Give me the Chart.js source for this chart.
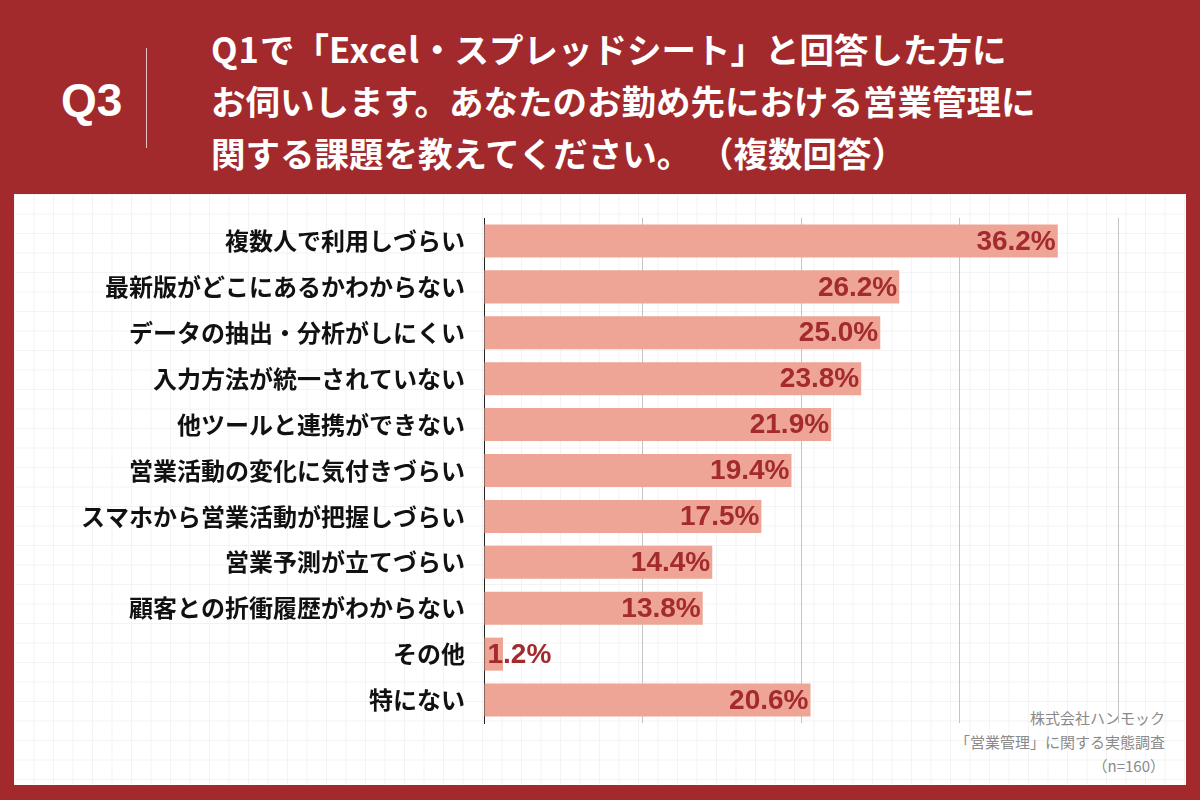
<!DOCTYPE html>
<html lang="ja">
<head>
<meta charset="utf-8">
<script src="https://cdn.jsdelivr.net/npm/chart.js@4"></script>
<style>
  html, body { margin: 0; padding: 0; }
  body {
    width: 1200px; height: 800px; overflow: hidden; position: relative;
    background: #a22a2d;
    font-family: "Noto Sans CJK JP", "Noto Sans", sans-serif;
  }
  #panel {
    position: absolute; left: 14px; top: 194px; width: 1172px; height: 591px;
    background-color: #fff;
    background-image:
      linear-gradient(to right, #f3f3f3 1px, transparent 1px),
      linear-gradient(to bottom, #f3f3f3 1px, transparent 1px);
    background-size: 19.5px 19.5px;
  }
  #q {
    position: absolute; left: 61px; top: 74px; color: #fff;
    font: bold 46px "Liberation Sans", Arial, sans-serif; line-height: 52px;
  }
  #divider {
    position: absolute; left: 146px; top: 48px; width: 1px; height: 100px;
    background: #e6c3c3;
  }
  #title {
    position: absolute; left: 211px; top: 22px; color: #fff;
    font-weight: bold; font-size: 34.5px; line-height: 52px; white-space: nowrap;
  }
  #title .latin { letter-spacing: 1px; }
  #source {
    position: absolute; right: 35px; top: 706px; text-align: right;
    color: #8a8a8a; font-size: 15px; line-height: 24px;
  }
  #chart { position: absolute; left: 0; top: 0; }
</style>
</head>
<body>
<div id="panel"></div>
<div id="q">Q3</div>
<div id="divider"></div>
<div id="title"><span class="latin">Q1</span>で「<span class="latin">Excel</span>・スプレッドシート」と回答した方に<br>お伺いします。あなたのお勤め先における営業管理に<br>関する課題を教えてください。 （複数回答）</div>
<div id="source">株式会社ハンモック<br>「営業管理」に関する実態調査<br>（n=160）</div>
<canvas id="chart" width="1200" height="800"></canvas>
<script>
// --- data ---
const categories = [
    "複数人で利用しづらい",
    "最新版がどこにあるかわからない",
    "データの抽出・分析がしにくい",
    "入力方法が統一されていない",
    "他ツールと連携ができない",
    "営業活動の変化に気付きづらい",
    "スマホから営業活動が把握しづらい",
    "営業予測が立てづらい",
    "顧客との折衝履歴がわからない",
    "その他",
    "特にない",
];
const percentages = [36.2, 26.2, 25.0, 23.8, 21.9, 19.4, 17.5, 14.4, 13.8, 1.2, 20.6];
const xTicks = [0, 10, 20, 30, 40];

const barColor = "#eea595";
const valueColor = "#a32a2d";

// 値ラベルをバーの右端に描く
const valueLabels = {
    id: "valueLabels",
    afterDatasetsDraw(chart) {
        const ctx = chart.ctx;
        const meta = chart.getDatasetMeta(0);
        ctx.save();
        ctx.font = "bold 28px 'Liberation Sans', Arial, sans-serif";
        ctx.fillStyle = valueColor;
        ctx.textBaseline = "middle";
        meta.data.forEach((bar, i) => {
            const text = percentages[i].toFixed(1) + "%";
            const w = ctx.measureText(text).width;
            if (bar.x - bar.base > w + 6) {
                ctx.textAlign = "right";
                ctx.fillText(text, bar.x - 2, bar.y + 1);
            } else {
                ctx.textAlign = "left";
                ctx.fillText(text, bar.base + 3, bar.y + 1);
            }
        });
        ctx.restore();
    },
};

new Chart(document.getElementById("chart"), {
    type: "bar",
    data: {
        labels: categories,
        datasets: [{
            data: percentages,
            backgroundColor: barColor,
            borderWidth: 0,
            categoryPercentage: 1,
            barPercentage: 0.72,
        }, ],
    },
    options: {
        indexAxis: "y",
        responsive: false,
        animation: false,
        layout: { padding: { top: 218, bottom: 77, right: 82, left: 0 } },
        scales: {
            x: {
                min: 0,
                max: 40,
                afterBuildTicks: (scale) => { scale.ticks = xTicks.map(v => ({ value: v })); },
                ticks: { display: false },
                grid: { color: "#c4c4c4", lineWidth: 1, drawTicks: false },
                border: { display: false },
                afterFit: (scale) => { scale.height = 0; },
            },
            y: {
                ticks: {
                    color: "#111",
                    padding: 19,
                    font: { family: "'Noto Sans CJK JP'", weight: "bold", size: 24 },
                },
                grid: { display: false, drawTicks: false },
                border: { display: true, color: "#222", width: 1 },
                afterFit: (scale) => { scale.width = 484; },
            },
        },
        plugins: {
            legend: { display: false },
            tooltip: { enabled: false },
        },
    },
    plugins: [valueLabels],
});
</script>
</body>
</html>
